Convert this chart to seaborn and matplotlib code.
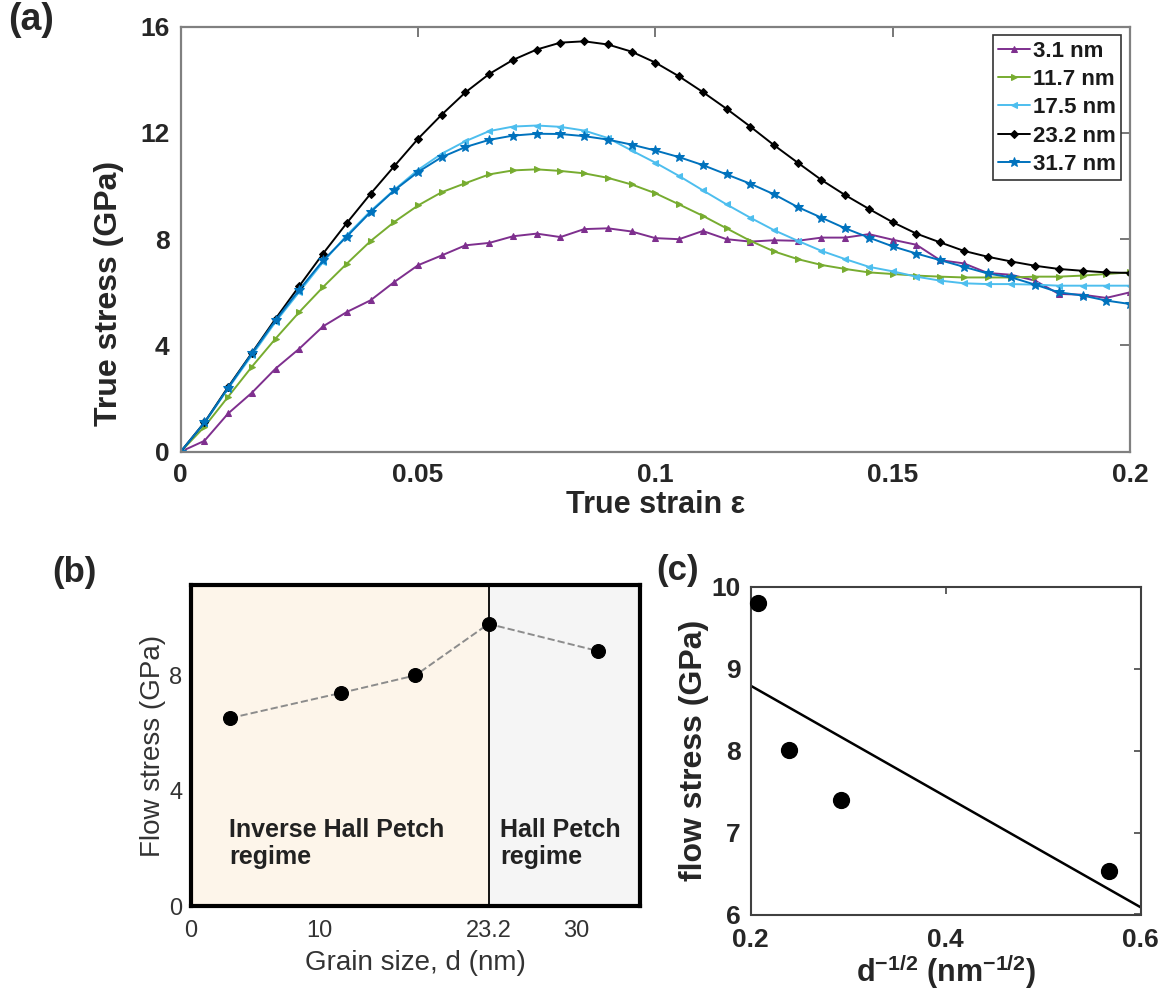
import numpy as np
import pandas as pd
import matplotlib
matplotlib.use("Agg")
import matplotlib.pyplot as plt
import seaborn as sns

# ---------------- data ----------------
strain = [0.000, 0.005, 0.010, 0.015, 0.020, 0.025, 0.030, 0.035, 0.040, 0.045,
          0.050, 0.055, 0.060, 0.065, 0.070, 0.075, 0.080, 0.085, 0.090, 0.095,
          0.100, 0.105, 0.110, 0.115, 0.120, 0.125, 0.130, 0.135, 0.140, 0.145,
          0.150, 0.155, 0.160, 0.165, 0.170, 0.175, 0.180, 0.185, 0.190, 0.195, 0.200]

stress_3_1 = [0, 0.41, 1.44, 2.22, 3.13, 3.88, 4.72, 5.26, 5.70, 6.39, 7.02, 7.39, 7.77, 7.86,
              8.11, 8.21, 8.08, 8.38, 8.41, 8.29, 8.04, 8.00, 8.31, 8.00, 7.91, 7.96, 7.94,
              8.06, 8.06, 8.19, 7.98, 7.79, 7.21, 7.09, 6.73, 6.66, 6.44, 5.94, 5.91, 5.79, 6.00]
stress_11_7 = [0, 0.94, 2.07, 3.20, 4.26, 5.26, 6.20, 7.08, 7.93, 8.65, 9.27, 9.77, 10.11, 10.44,
               10.59, 10.63, 10.57, 10.48, 10.31, 10.06, 9.73, 9.31, 8.88, 8.41, 7.94, 7.54, 7.25,
               7.03, 6.88, 6.75, 6.69, 6.63, 6.59, 6.56, 6.56, 6.56, 6.59, 6.59, 6.63, 6.69, 6.75]
stress_17_5 = [0, 1.07, 2.38, 3.63, 4.89, 6.02, 7.14, 8.15, 9.06, 9.86, 10.61, 11.22, 11.69, 12.07,
               12.24, 12.28, 12.23, 12.09, 11.81, 11.34, 10.88, 10.38, 9.84, 9.31, 8.81, 8.34, 7.94,
               7.56, 7.25, 6.96, 6.79, 6.59, 6.44, 6.34, 6.31, 6.31, 6.29, 6.25, 6.25, 6.25, 6.25]
stress_23_2 = [0, 1.10, 2.44, 3.72, 5.01, 6.24, 7.46, 8.61, 9.71, 10.75, 11.78, 12.69, 13.53, 14.22,
               14.75, 15.14, 15.40, 15.45, 15.33, 15.06, 14.65, 14.13, 13.54, 12.91, 12.24, 11.54,
               10.88, 10.23, 9.66, 9.14, 8.64, 8.21, 7.88, 7.56, 7.34, 7.16, 7.00, 6.88, 6.81, 6.75, 6.73]
stress_31_7 = [0, 1.10, 2.41, 3.70, 4.95, 6.10, 7.20, 8.10, 9.02, 9.84, 10.53, 11.09, 11.47, 11.74,
               11.90, 11.97, 11.96, 11.88, 11.75, 11.56, 11.34, 11.09, 10.79, 10.44, 10.09, 9.69,
               9.21, 8.81, 8.41, 8.06, 7.73, 7.46, 7.21, 6.96, 6.71, 6.56, 6.29, 6.00, 5.88, 5.69, 5.56]

series_labels = ["3.1 nm", "11.7 nm", "17.5 nm", "23.2 nm", "31.7 nm"]
series_values = [stress_3_1, stress_11_7, stress_17_5, stress_23_2, stress_31_7]

grain_size = [3.1, 11.7, 17.5, 23.2, 31.7]
flow_stress = [6.53, 7.40, 8.01, 9.80, 8.86]

# ---------------- style ----------------
sns.set_theme(style="white")
plt.rcParams["font.family"] = ["Liberation Sans", "DejaVu Sans"]
plt.rcParams["mathtext.fontset"] = "custom"
plt.rcParams["mathtext.rm"] = "Liberation Sans:bold"
plt.rcParams["mathtext.bf"] = "Liberation Sans:bold"
plt.rcParams["mathtext.default"] = "bf"

colors = ["#7E2F8E", "#77AC30", "#4DBEEE", "#000000", "#0072BD"]
markers = ["^", ">", "<", "D", "*"]
msizes = [5, 5, 5, 4, 7]

W, H = 1167, 996
fig = plt.figure(figsize=(W / 100, H / 100), dpi=100)

def frac(l, t, r, b):
    return [l / W, 1 - b / H, (r - l) / W, (b - t) / H]

# ---------------- panel (a) ----------------
ax = fig.add_axes(frac(180.7, 26.7, 1130, 451.7))
for lab, vals, c, m, ms in zip(series_labels, series_values, colors, markers, msizes):
    sns.lineplot(x=strain, y=vals, ax=ax, color=c, marker=m, markersize=ms,
                 markeredgecolor=c, linewidth=1.4, label=lab, sort=False)
ax.set_xlim(0, 0.2)
ax.set_ylim(0, 16)
ax.set_xticks([0, 0.05, 0.1, 0.15, 0.2])
ax.set_xticklabels(["0", "0.05", "0.1", "0.15", "0.2"])
ax.set_yticks([0, 4, 8, 12, 16])
ax.tick_params(direction="in", length=7, width=1.4, color="#777777", top=True, right=True,
               labelsize=19, labelcolor="#262626", pad=8)
for t in ax.get_xticklabels() + ax.get_yticklabels():
    t.set_fontweight("bold")
for s in ax.spines.values():
    s.set_color("#808080")
    s.set_linewidth(1.6)
ax.set_xlabel("True strain ε", fontsize=22, fontweight="bold", color="#262626", labelpad=2)
ax.set_ylabel("True stress (GPa)", fontsize=23, fontweight="bold", color="#262626")
ax.yaxis.set_label_coords(-0.0597, 0.373)
leg = ax.legend(loc="upper right", bbox_to_anchor=(0.9905, 0.9805), frameon=True, fancybox=False,
                edgecolor="#333333", framealpha=1, prop={"size": 16, "weight": "bold"},
                handlelength=1.45, handletextpad=0.1, labelspacing=0.33, borderpad=0.25,
                borderaxespad=0.0)
leg.get_frame().set_linewidth(1.2)
for t in leg.get_texts():
    t.set_color("#1a1a1a")

fig.text(8 / W, 1 - 2 / H, "(a)", fontsize=27, fontweight="bold", va="top", ha="left")

# ---------------- panel (b) ----------------
narrow = ["Liberation Sans Narrow", "Liberation Sans", "DejaVu Sans"]
axb = fig.add_axes(frac(190.7, 585, 640, 906))
axb.set_xlim(0, 35)
axb.set_ylim(0, 11.15)
d_peak = grain_size[3]
axb.axvspan(0, d_peak, color="#FDF5EA", zorder=0, lw=0)
axb.axvspan(d_peak, 35, color="#F5F5F5", zorder=0, lw=0)
axb.axvline(d_peak, color="black", lw=1.3, zorder=1)
sns.lineplot(x=grain_size, y=flow_stress, ax=axb, color="#8c8c8c", linestyle="--",
             linewidth=1.4, zorder=2)
sns.scatterplot(x=grain_size, y=flow_stress, ax=axb, color="black", s=100,
                edgecolor="black", zorder=3)
axb.set_xticks([0, 10, d_peak, 30])
axb.set_xticklabels(["0", "10", "23.2", "30"])
axb.set_yticks([0, 4, 8])
axb.tick_params(axis="x", length=0, labelsize=17, labelcolor="#333333", pad=10)
axb.tick_params(axis="y", length=0, labelsize=17, labelcolor="#333333", pad=6)
for t in axb.get_xticklabels() + axb.get_yticklabels():
    t.set_family(narrow)
for s in axb.spines.values():
    s.set_color("black")
    s.set_linewidth(3)
axb.set_xlabel("Grain size, d (nm)", fontsize=20, family=narrow, color="#333333", labelpad=6)
axb.set_ylabel("Flow stress (GPa)", fontsize=20, family=narrow, color="#333333", labelpad=2)
axb.text(3.0, 3.05, "Inverse Hall Petch\nregime", fontsize=18, family=narrow, fontweight="bold",
         color="#222222", va="top", ha="left", linespacing=1.15)
axb.text(d_peak + 0.9, 3.05, "Hall Petch\nregime", fontsize=18, family=narrow, fontweight="bold",
         color="#222222", va="top", ha="left", linespacing=1.15)

fig.text(52 / W, 1 - 556 / H, "(b)", fontsize=25, fontweight="bold", va="top", ha="left")

# ---------------- panel (c) ----------------
axc = fig.add_axes(frac(750.7, 586.7, 1140.7, 914.5))
inv_sqrt_d = [g ** -0.5 for g in grain_size[:4]]
flow_c = flow_stress[:4]
axc.set_xlim(0.2, 0.6)
axc.set_ylim(6, 10)
sns.regplot(x=inv_sqrt_d, y=flow_c, ax=axc, ci=None, truncate=False,
            scatter_kws=dict(s=130, color="black", alpha=1, zorder=3, clip_on=False),
            line_kws=dict(color="black", lw=1.8))
axc.set_xlim(0.2, 0.6)
axc.set_ylim(6, 10)
axc.set_xticks([0.2, 0.4, 0.6])
axc.set_yticks([6, 7, 8, 9, 10])
axc.tick_params(direction="in", length=5, width=1.2, color="#444444", top=True, right=True,
                labelsize=19, labelcolor="#262626", pad=7)
axc.tick_params(axis="x", pad=10)
for t in axc.get_xticklabels() + axc.get_yticklabels():
    t.set_fontweight("bold")
for s in axc.spines.values():
    s.set_color("#404040")
    s.set_linewidth(1.5)
axc.set_xlabel(r"d$^{-1/2}$ (nm$^{-1/2}$)", fontsize=22, fontweight="bold", color="#262626",
               labelpad=0)
axc.set_ylabel("flow stress (GPa)", fontsize=23, fontweight="bold", color="#262626", labelpad=2)

fig.text(656 / W, 1 - 554 / H, "(c)", fontsize=25, fontweight="bold", va="top", ha="left")

fig.savefig("out.png", dpi=100)
